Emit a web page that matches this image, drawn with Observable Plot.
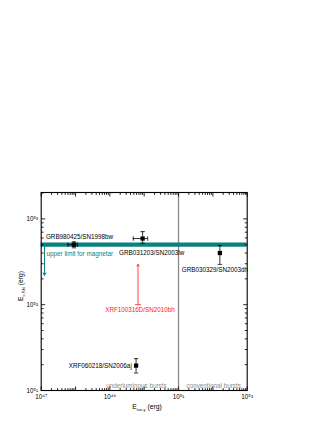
<!DOCTYPE html>
<html>
<head>
<meta charset="utf-8">
<script src="https://cdn.jsdelivr.net/npm/d3@7"></script>
<script src="https://cdn.jsdelivr.net/npm/@observablehq/plot@0.6"></script>
<style>
  html, body { margin: 0; padding: 0; background: white; }
  #chart svg { display: block; }
</style>
</head>
<body>
<div id="chart"></div>
<script>
// ---- data ----
const names   = ["GRB980425/SN1998bw", "GRB031203/SN2003lw", "GRB030329/SN2003dh", "XRF060218/SN2006aj"];
const eIso    = [9.0e47, 9.0e49, 1.6e52, 5.8e49];
const eIsoLo  = [6.0e47, 4.8e49, 1.6e52, 5.8e49];
const eIsoHi  = [1.15e48, 1.26e50, 1.6e52, 5.8e49];
const eSN     = [5.0e52, 5.9e52, 4.0e52, 1.95e51];
const eSNLo   = [4.6e52, 5.2e52, 2.95e52, 1.6e51];
const eSNHi   = [5.4e52, 7.1e52, 4.9e52, 2.35e51];

const limitName  = ["XRF100316D/SN2010bh"];
const limitIso   = [6.6e49];
const limitSN    = [1.0e52];      // lower limit
const limitArrow = [2.95e52];     // arrow tip

const magnetarLimit = [5.0e52];   // upper limit for magnetar (band)
const magnetarArrowX = [1.25e47];
const magnetarArrowTo = [2.2e52];
const magnetarText = ["upper limit for magnetar"];

const boundary = [1e51];
const regionText = ["underluminous bursts", "conventional bursts"];

const xDomain = [1e47, 1e53];
const yDomain = [1e51, 2.03e53];
const xMajor = [1e47, 1e48, 1e49, 1e50, 1e51, 1e52, 1e53];
const xLabeled = [1e47, 1e49, 1e51, 1e53];
const yMajor = [1e51, 1e52, 1e53];
const yLabeled = [1e51, 1e52, 1e53];
const minorMult = [2, 3, 4, 5, 6, 7, 8, 9];

// ---- build tables ----
const pts = names.map((n, i) => ({name: n, x: eIso[i], xlo: eIsoLo[i], xhi: eIsoHi[i], y: eSN[i], ylo: eSNLo[i], yhi: eSNHi[i]}));
const lim = limitName.map((n, i) => ({name: n, x: limitIso[i], y: limitSN[i], y2: limitArrow[i]}));
const mag = magnetarLimit.map((v, i) => ({x: magnetarArrowX[i], y: v, y2: magnetarArrowTo[i], text: magnetarText[i]}));
const xMinor = xMajor.slice(0, -1).flatMap(d => minorMult.map(m => d * m));
const yMinor = yMajor.slice(0, -1).flatMap(d => minorMult.map(m => d * m)).concat([2e53]).filter(v => v <= yDomain[1]);

const sup = {"0":"⁰","1":"¹","2":"²","3":"³","4":"⁴","5":"⁵","6":"⁶","7":"⁷","8":"⁸","9":"⁹","-":"⁻"};
const fmtPow = v => "10" + String(Math.round(Math.log10(v))).split("").map(c => sup[c]).join("");

const hCap = {draw(ctx, size) { const r = Math.sqrt(size / Math.PI); ctx.moveTo(-r, 0); ctx.lineTo(r, 0); }};
const vCap = {draw(ctx, size) { const r = Math.sqrt(size / Math.PI); ctx.moveTo(0, -r); ctx.lineTo(0, r); }};

const teal = "#0b8080";
const red = "#ff1a1a";
const gray = "#8a8a8a";

const W = 332, H = 430, mL = 40.7, mR = 85.3, mT = 192, mB = 40;
const maj = 2, mnr = 1.2;   // half tick lengths
const tk = {stroke: "#111", strokeWidth: 0.9};

// inward tick marks drawn as short line symbols sitting on the frame
const xTicks = (vals, r, atY, dir) => Plot.dot(vals, {x: d => d, y: () => atY, symbol: vCap, r, dy: dir * r, ...tk});
const yTicks = (vals, r, atX, dir) => Plot.dot(vals, {x: () => atX, y: d => d, symbol: hCap, r, dx: dir * r, ...tk});

const chart = Plot.plot({
  width: W,
  height: H,
  marginLeft: mL,
  marginRight: mR,
  marginTop: mT,
  marginBottom: mB,
  style: {fontFamily: "'Liberation Sans', Arial, sans-serif", fontSize: "6.3px", background: "white", color: "black"},
  x: {type: "log", domain: xDomain, axis: null},
  y: {type: "log", domain: yDomain, axis: null},
  marks: [
    // region boundary
    Plot.ruleX(boundary, {stroke: gray, strokeWidth: 1.3}),
    // magnetar band
    Plot.ruleY(magnetarLimit, {stroke: teal, strokeWidth: 4.3}),
    Plot.arrow(mag, {x1: "x", x2: "x", y1: "y", y2: "y2", stroke: teal, strokeWidth: 1, headLength: 4, bend: 0}),
    Plot.text(mag, {x: "x", y: "y", text: "text", fill: teal, textAnchor: "start", dx: 2, dy: 9}),
    // lower limit (red)
    Plot.arrow(lim, {x1: "x", x2: "x", y1: "y", y2: "y2", stroke: red, strokeWidth: 0.8, headLength: 4}),
    Plot.dot(lim, {x: "x", y: "y", symbol: hCap, r: 3, stroke: red, strokeWidth: 0.8, fill: "none"}),
    Plot.text(lim, {x: "x", y: "y", text: "name", fill: red, dx: 2, dy: 5.5}),
    // error bars
    Plot.ruleY(pts.filter(d => d.xhi > d.xlo), {y: "y", x1: "xlo", x2: "xhi", stroke: "black", strokeWidth: 0.8}),
    Plot.ruleX(pts.filter(d => d.yhi > d.ylo), {x: "x", y1: "ylo", y2: "yhi", stroke: "black", strokeWidth: 0.8}),
    Plot.dot(pts.filter(d => d.xhi > d.xlo), {x: "xlo", y: "y", symbol: vCap, r: 2.2, stroke: "black", strokeWidth: 0.8}),
    Plot.dot(pts.filter(d => d.xhi > d.xlo), {x: "xhi", y: "y", symbol: vCap, r: 2.2, stroke: "black", strokeWidth: 0.8}),
    Plot.dot(pts.filter(d => d.yhi > d.ylo), {x: "x", y: "ylo", symbol: hCap, r: 2.2, stroke: "black", strokeWidth: 0.8}),
    Plot.dot(pts.filter(d => d.yhi > d.ylo), {x: "x", y: "yhi", symbol: hCap, r: 2.2, stroke: "black", strokeWidth: 0.8}),
    Plot.dot(pts, {x: "x", y: "y", symbol: "square", r: 2.4, fill: "black", stroke: "none"}),
    // point labels
    Plot.text(pts.filter(d => d.name === names[0]), {x: "x", y: "y", text: "name", dx: 5.6, dy: -8}),
    Plot.text(pts.filter(d => d.name === names[1]), {x: "x", y: "y", text: "name", dx: 9, dy: 14}),
    Plot.text(pts.filter(d => d.name === names[2]), {x: "x", y: "y", text: "name", dx: -5, dy: 17}),
    Plot.text(pts.filter(d => d.name === names[3]), {x: "x", y: "y", text: "name", textAnchor: "end", dx: -4.3, dy: 0}),
    // region labels
    Plot.text(boundary, {x: d => d, y: () => yDomain[0], text: () => regionText[0], textAnchor: "end", dx: -12, dy: -5, fill: gray}),
    Plot.text(boundary, {x: d => d, y: () => yDomain[0], text: () => regionText[1], textAnchor: "start", dx: 8, dy: -5, fill: gray}),
    // inward ticks on all four sides
    xTicks(xMajor, maj, yDomain[0], -1),
    xTicks(xMinor, mnr, yDomain[0], -1),
    xTicks(xMajor, maj, yDomain[1], 1),
    xTicks(xMinor, mnr, yDomain[1], 1),
    yTicks(yMajor, maj, xDomain[0], 1),
    yTicks(yMinor, mnr, xDomain[0], 1),
    yTicks(yMajor, maj, xDomain[1], -1),
    yTicks(yMinor, mnr, xDomain[1], -1),
    // tick labels
    Plot.axisX(xLabeled, {anchor: "bottom", tickSize: 0, tickPadding: 4, tickFormat: fmtPow, label: null}),
    Plot.axisY(yLabeled, {anchor: "left", tickSize: 0, tickPadding: 3, tickFormat: fmtPow, label: null}),
    Plot.frame({stroke: "black", strokeWidth: 1.1})
  ]
});

document.getElementById("chart").appendChild(chart);

// axis titles with subscripts
const svg = d3.select(chart);
const xt = svg.append("text")
  .attr("x", 147).attr("y", 409)
  .attr("text-anchor", "middle")
  .attr("font-family", "'Liberation Sans', Arial, sans-serif")
  .attr("font-size", "6.8px").attr("fill", "black");
xt.append("tspan").text("E");
xt.append("tspan").attr("font-size", "4.3px").attr("dy", "1.6").text("iso,γ");
xt.append("tspan").attr("dy", "-1.6").text(" (erg)");

const yt = svg.append("text")
  .attr("transform", "translate(23,286) rotate(-90)")
  .attr("text-anchor", "middle")
  .attr("font-family", "'Liberation Sans', Arial, sans-serif")
  .attr("font-size", "6.8px").attr("fill", "black");
yt.append("tspan").text("E");
yt.append("tspan").attr("font-size", "4.3px").attr("dy", "1.6").text("c,SN");
yt.append("tspan").attr("dy", "-1.6").text(" (erg)");
</script>
</body>
</html>
